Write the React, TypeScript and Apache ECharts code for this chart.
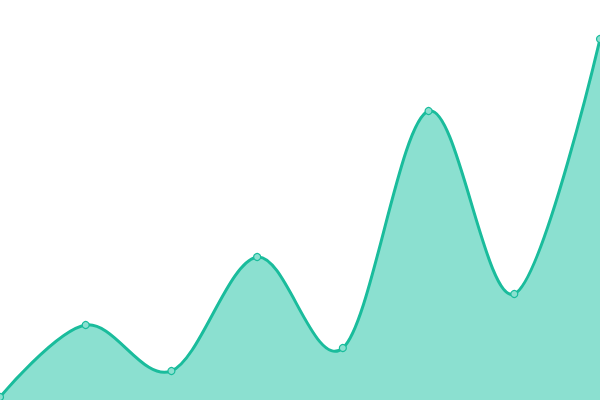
import React, { useEffect, useRef } from "react";
import * as echarts from "echarts";

const categories = ["1", "2", "3", "4", "5", "6", "7", "8"];
const values = [3, 75, 29, 143, 52, 289, 106, 361];
const yMax = 400;

const LINE = "#1abc9c";
const AREA = "#8be0d0";
const DOT = "#8be0d0";

export default function App() {
  const ref = useRef<HTMLDivElement>(null);
  useEffect(() => {
    document.body.style.margin = "0";
    const chart = echarts.init(ref.current!, null, { renderer: "svg" });
    chart.setOption({
      animation: false,
      grid: { left: 0, right: 0, top: 0, bottom: 0 },
      xAxis: {
        type: "category",
        data: categories,
        boundaryGap: false,
        show: false,
      },
      yAxis: { type: "value", min: 0, max: yMax, show: false },
      series: [
        {
          type: "custom",
          coordinateSystem: "cartesian2d",
          clip: false,
          data: values.map((v, i) => [i, v]),
          encode: { x: 0, y: 1 },
          renderItem: (params: any, api: any) => {
            if (params.dataIndex !== 0) return null;
            const pts: number[][] = values.map((v, i) => api.coord([i, v]));
            const base = api.coord([0, 0])[1];
            const n = pts.length;
            let d = `M${pts[0][0]},${pts[0][1]}`;
            for (let i = 0; i < n - 1; i++) {
              const p0 = pts[i - 1] || pts[i + 1];
              const p1 = pts[i];
              const p2 = pts[i + 1];
              const p3 = pts[i + 2] || pts[i];
              const c1x = i === 0 ? p1[0] : p1[0] + (p2[0] - p0[0]) / 6;
              const c1y = i === 0 ? p1[1] : p1[1] + (p2[1] - p0[1]) / 6;
              const c2x = i === n - 2 ? p2[0] : p2[0] - (p3[0] - p1[0]) / 6;
              const c2y = i === n - 2 ? p2[1] : p2[1] - (p3[1] - p1[1]) / 6;
              d += ` C${c1x},${c1y} ${c2x},${c2y} ${p2[0]},${p2[1]}`;
            }
            const area =
              d + ` L${pts[n - 1][0]},${base} L${pts[0][0]},${base} Z`;
            const children: any[] = [
              {
                type: "path",
                shape: { pathData: area },
                style: { fill: AREA, stroke: "none" },
              },
              {
                type: "path",
                shape: { pathData: d },
                style: { fill: "none", stroke: LINE, lineWidth: 3 },
              },
            ];
            pts.forEach((p) => {
              children.push({
                type: "circle",
                shape: { cx: p[0], cy: p[1], r: 3.5 },
                style: { fill: DOT, stroke: LINE, lineWidth: 1.2 },
              });
            });
            return { type: "group", children };
          },
        },
      ],
    });
    return () => chart.dispose();
  }, []);
  return <div ref={ref} style={{ width: 600, height: 400 }} />;
}
